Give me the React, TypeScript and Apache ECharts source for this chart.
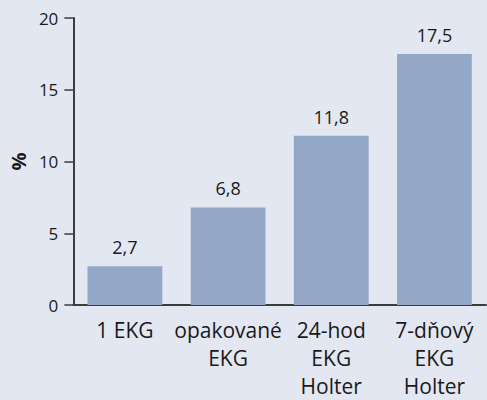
import React, { useEffect, useRef } from "react";
import * as echarts from "echarts";

const categories = ["1 EKG", "opakované\nEKG", "24-hod\nEKG\nHolter", "7-dňový\nEKG\nHolter"];
const values = [2.7, 6.8, 11.8, 17.5];
const valueLabels = ["2,7", "6,8", "11,8", "17,5"];
const yTicks = [0, 5, 10, 15, 20];

export default function App() {
  const ref = useRef<HTMLDivElement>(null);
  useEffect(() => {
    document.body.style.margin = "0";
    const chart = echarts.init(ref.current!, undefined, { renderer: "svg" });
    const font = "'Open Sans', sans-serif";
    const axisColor = "#3c3c3c";
    chart.setOption({
      animation: false,
      backgroundColor: "#e3e7f1",
      grid: { left: 72, right: 1, top: 18, bottom: 90, containLabel: false },
      xAxis: {
        type: "category",
        data: categories,
        axisLine: { lineStyle: { color: axisColor, width: 2 } },
        axisTick: { length: 8, lineStyle: { color: axisColor, width: 1.5 } },
        axisLabel: {
          color: "#1a1a1a",
          fontFamily: font,
          fontSize: 21,
          lineHeight: 28,
          margin: 11,
          interval: 0,
        },
      },
      yAxis: {
        type: "value",
        min: yTicks[0],
        max: yTicks[yTicks.length - 1],
        interval: 5,
        name: "%",
        nameLocation: "middle",
        nameGap: 42,
        nameRotate: 90,
        nameTextStyle: { color: "#1a1a1a", fontFamily: font, fontSize: 20, fontWeight: "bold" },
        axisLine: { show: true, lineStyle: { color: axisColor, width: 2 } },
        axisTick: { show: true, length: 9, lineStyle: { color: axisColor, width: 1.5 } },
        splitLine: { show: false },
        axisLabel: { color: "#1a1a1a", fontFamily: font, fontSize: 17, margin: 15 },
      },
      series: [
        {
          type: "bar",
          data: values,
          barWidth: "72.5%",
          itemStyle: { color: "#93a7c8" },
          label: {
            show: true,
            position: "top",
            distance: 10,
            color: "#1a1a1a",
            fontFamily: font,
            fontSize: 18,
            formatter: (p: any) => valueLabels[p.dataIndex],
          },
        },
      ],
    });
    return () => chart.dispose();
  }, []);
  return <div ref={ref} style={{ width: 487, height: 400 }} />;
}
